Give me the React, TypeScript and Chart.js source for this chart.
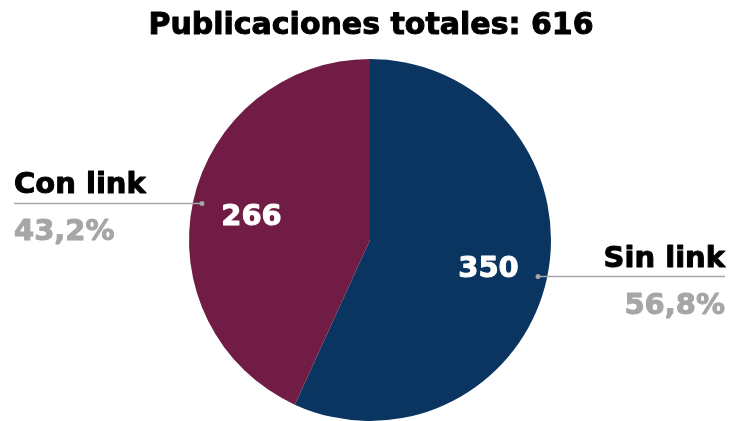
import React, { useEffect, useRef } from "react";
import { Chart, registerables } from "chart.js";

Chart.register(...registerables);

const categories = ["Sin link", "Con link"];
const values = [350, 266];
const sliceColors = ["#0a3560", "#701c45"];
const chartTitle = "Publicaciones totales: 616";

const FONT = '"DejaVu Sans", sans-serif';

function heavyText(ctx: any, text: string, x: number, y: number, color: string) {
  ctx.fillStyle = color;
  ctx.strokeStyle = color;
  ctx.lineWidth = 1;
  ctx.lineJoin = "round";
  ctx.fillText(text, x, y);
  ctx.strokeText(text, x, y);
}

const labelPlugin = {
  id: "outLabels",
  afterDatasetsDraw(chart: any) {
    const ctx = chart.ctx;
    const meta = chart.getDatasetMeta(0);
    const total = values.reduce((a, b) => a + b, 0);
    const W = chart.width;
    ctx.save();
    const ca = chart.chartArea;
    ctx.font = `bold 30px ${FONT}`;
    ctx.textAlign = "center";
    ctx.textBaseline = "alphabetic";
    heavyText(ctx, chartTitle, (ca.left + ca.right) / 2 + 1, 34, "#000");

    meta.data.forEach((arc: any, i: number) => {
      const p = arc.getProps(["x", "y", "startAngle", "endAngle", "outerRadius"], true);
      const mid = (p.startAngle + p.endAngle) / 2;
      const cx = Math.cos(mid);
      const cy = Math.sin(mid);
      // inner value
      ctx.font = `bold 29px ${FONT}`;
      ctx.textAlign = "center";
      ctx.textBaseline = "alphabetic";
      const vx = p.x + cx * p.outerRadius * 0.67;
      const vy = p.y + cy * p.outerRadius * 0.67;
      heavyText(ctx, String(values[i]), vx, vy + 11, "#ffffff");
      // leader
      const dx = p.x + cx * p.outerRadius * 0.95;
      const dy = p.y + cy * p.outerRadius * 0.95;
      const right = cx > 0;
      const endX = right ? W - 4 : 14;
      ctx.strokeStyle = "#a6a6a6";
      ctx.lineWidth = 1.5;
      ctx.beginPath();
      ctx.moveTo(dx, dy);
      ctx.lineTo(endX, dy);
      ctx.stroke();
      ctx.fillStyle = "#a6a6a6";
      ctx.beginPath();
      ctx.arc(dx, dy, 2.5, 0, Math.PI * 2);
      ctx.fill();
      // texts
      ctx.textAlign = right ? "right" : "left";
      ctx.textBaseline = "alphabetic";
      ctx.font = `bold 29px ${FONT}`;
      heavyText(ctx, categories[i], endX, dy - 10, "#000");
      const pct = ((values[i] / total) * 100).toFixed(1).replace(".", ",") + "%";
      heavyText(ctx, pct, endX, dy + 37, "#a6a6a6");
    });
    ctx.restore();
  },
};

export default function App() {
  const ref = useRef<HTMLCanvasElement>(null);
  useEffect(() => {
    if (!ref.current) return;
    const chart = new Chart(ref.current, {
      type: "pie",
      data: {
        labels: categories,
        datasets: [
          {
            data: values,
            backgroundColor: sliceColors,
            borderWidth: 0,
          },
        ],
      },
      options: {
        animation: false,
        responsive: false,
        maintainAspectRatio: false,
        devicePixelRatio: 1,
        layout: { padding: { left: 189, right: 178, top: 59, bottom: 0 } },
        plugins: {
          legend: { display: false },
          tooltip: { enabled: false },
          title: { display: false },
        },
      },
      plugins: [labelPlugin],
    });
    return () => chart.destroy();
  }, []);
  return (
    <div style={{ position: "absolute", left: 0, top: 0, width: 729, height: 421, background: "#fff" }}>
      <canvas ref={ref} width={729} height={421} />
    </div>
  );
}
